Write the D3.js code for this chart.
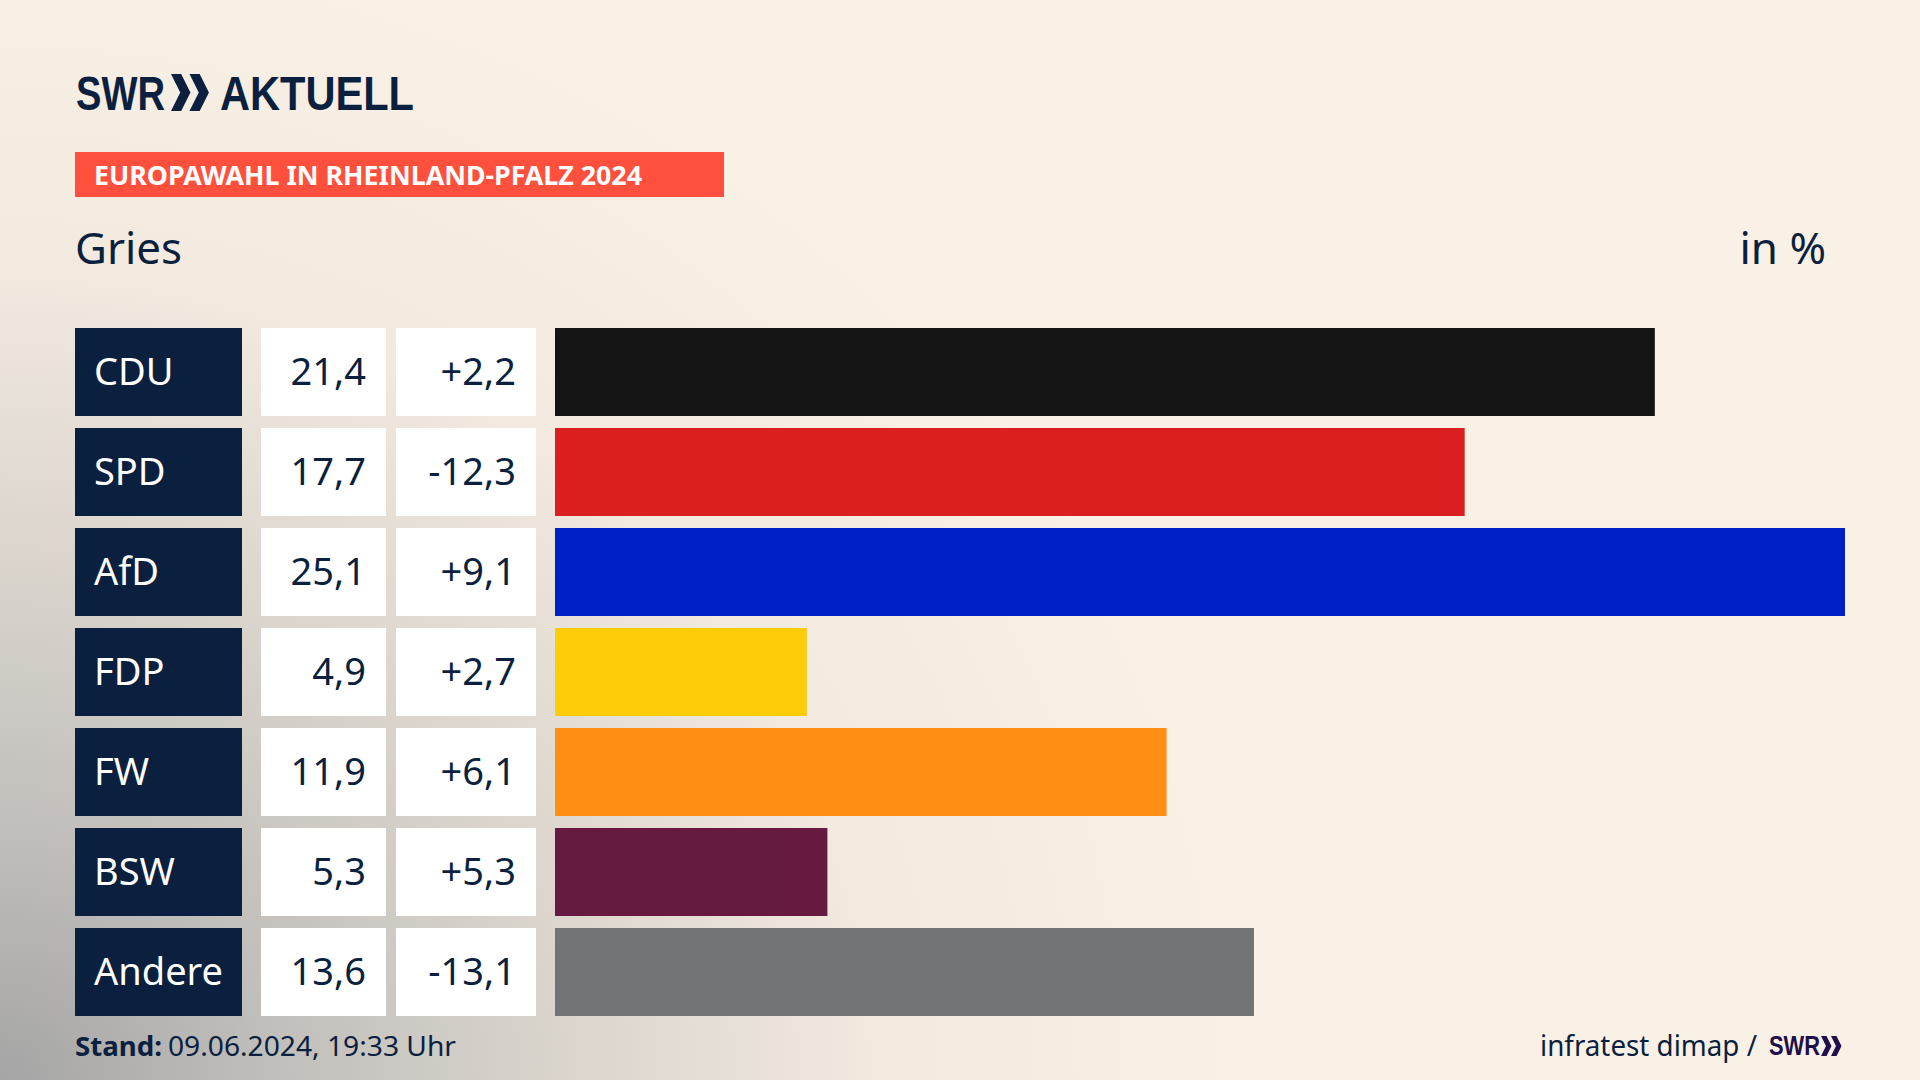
<!DOCTYPE html>
<html lang="de">
<head>
<meta charset="utf-8">
<title>Europawahl in Rheinland-Pfalz 2024 – Gries</title>
<script src="https://cdn.jsdelivr.net/npm/d3@7/dist/d3.min.js"></script>
<style>
html,body{margin:0;padding:0;width:1920px;height:1080px;overflow:hidden;background:#faf1e6;}
body{background:
 radial-gradient(ellipse 1250px 1150px at 0px 1080px, rgba(165,165,165,1) 0%, rgba(190,188,185,.95) 22%, rgba(212,207,200,.85) 45%, rgba(235,227,217,.55) 70%, rgba(250,241,230,0) 100%),
 #faf1e6;}
svg{display:block;font-family:"Noto Sans",sans-serif;}
</style>
</head>
<body>
<svg id="chart" width="1920" height="1080" viewBox="0 0 1920 1080"></svg>
<script>
const categories = ["CDU","SPD","AfD","FDP","FW","BSW","Andere"];
const shares = [21.4,17.7,25.1,4.9,11.9,5.3,13.6];
const changes = [2.2,-12.3,9.1,2.7,6.1,5.3,-13.1];
const colors = ["#141414","#d91f1f","#0020c7","#ffcc0a","#ff8e14","#671a3f","#727375"];
const title = "EUROPAWAHL IN RHEINLAND-PFALZ 2024";
const subtitle = "Gries";
const unit = "in %";
const standLabel = "Stand:";
const standText = "09.06.2024, 19:33 Uhr";
const sourceText = "infratest dimap /";

const navy = "#0b1f3f";
const svg = d3.select("#chart");

const y = d3.scaleBand().domain(categories).range([328,1016]).paddingInner(0.12).paddingOuter(0);
const x = d3.scaleLinear().domain([0,d3.max(shares)]).range([555,1845]);
const fmt = v => v.toFixed(1).replace(".",",");
const fmtSigned = v => (v>0?"+":"-") + fmt(Math.abs(v));

function chevrons(g,x0,y0,h,color){
  const w=h*0.5, gap=h*0.5;
  [0,gap].forEach(dx=>{
    g.append("path")
     .attr("d",`M${x0+dx},${y0} L${x0+dx+w*0.55},${y0} L${x0+dx+w*1.05},${y0+h/2} L${x0+dx+w*0.55},${y0+h} L${x0+dx},${y0+h} L${x0+dx+w*0.5},${y0+h/2} Z`)
     .attr("fill",color);
  });
}
function logoText(x0,base,size,len,txt,color){
  return svg.append("text").attr("x",x0).attr("y",base)
    .attr("font-family","'Liberation Sans Narrow','Liberation Sans',sans-serif")
    .attr("font-weight",700).attr("font-size",size).attr("fill",color)
    .attr("textLength",len).attr("lengthAdjust","spacingAndGlyphs").text(txt);
}

// header
logoText(76,110,49,89,"SWR",navy);
chevrons(svg,171,74,37,navy);
logoText(220,110,49,194,"AKTUELL",navy);

svg.append("rect").attr("x",75).attr("y",152).attr("width",649).attr("height",45).attr("fill","#ff503d");
svg.append("text").attr("x",94).attr("y",185).attr("font-size",27.5).attr("font-weight",700)
  .attr("fill","#fff").attr("textLength",548).attr("lengthAdjust","spacingAndGlyphs").text(title);

svg.append("text").attr("x",75).attr("y",264).attr("font-size",44).attr("fill",navy)
  .attr("textLength",107).attr("lengthAdjust","spacingAndGlyphs").text(subtitle);
svg.append("text").attr("x",1826).attr("y",264).attr("font-size",44).attr("fill",navy)
  .attr("text-anchor","end").text(unit);

// rows
const rows = svg.selectAll("g.row").data(categories).join("g").attr("class","row")
  .attr("transform",d=>`translate(0,${y(d)})`);
const h = y.bandwidth();

rows.append("rect").attr("x",75).attr("width",167).attr("height",h).attr("fill",navy);
rows.append("text").attr("x",94).attr("y",57).attr("font-size",38).attr("fill","#fff").text(d=>d);

rows.append("rect").attr("x",261).attr("width",125).attr("height",h).attr("fill","#fff");
rows.append("text").attr("x",366).attr("y",57).attr("font-size",38).attr("fill",navy)
  .attr("text-anchor","end").text((d,i)=>fmt(shares[i]));

rows.append("rect").attr("x",396).attr("width",140).attr("height",h).attr("fill","#fff");
rows.append("text").attr("x",516).attr("y",57).attr("font-size",38).attr("fill",navy)
  .attr("text-anchor","end").text((d,i)=>fmtSigned(changes[i]));

rows.append("rect").attr("x",x(0)).attr("width",(d,i)=>x(shares[i])-x(0)).attr("height",h)
  .attr("fill",(d,i)=>colors[i]);

// footer
svg.append("text").attr("x",75).attr("y",1056).attr("font-size",27).attr("font-weight",700)
  .attr("fill",navy).attr("textLength",87).attr("lengthAdjust","spacingAndGlyphs").text(standLabel);
svg.append("text").attr("x",168).attr("y",1056).attr("font-size",27).attr("fill",navy)
  .attr("textLength",288).attr("lengthAdjust","spacingAndGlyphs").text(standText);
svg.append("text").attr("x",1540).attr("y",1056).attr("font-size",29).attr("fill",navy)
  .attr("textLength",217).attr("lengthAdjust","spacingAndGlyphs").text(sourceText);
logoText(1769,1055,27,51,"SWR","#1f0f4a");
chevrons(svg,1821,1036,20,"#1f0f4a");
</script>
</body>
</html>
